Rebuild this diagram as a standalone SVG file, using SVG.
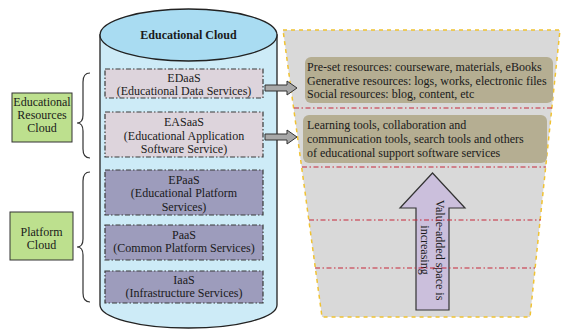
<svg xmlns="http://www.w3.org/2000/svg" width="562" height="330" viewBox="0 0 562 330">
<style>
text{font-family:"Liberation Serif","Times New Roman",serif;font-size:12px;fill:#1a1a1a}
.c{text-anchor:middle}
.b{font-weight:bold}
.svc{stroke:#3a3a3a;stroke-width:1.2;stroke-dasharray:5 2 1.5 2}
.light{fill:#ddd4dc}
.dark{fill:#9d9cbc}
.lbl{fill:#bde08e;stroke:#333;stroke-width:1}
.brace{fill:none;stroke:#333;stroke-width:1.2}
.red{stroke:#c8283a;stroke-width:1.2;stroke-dasharray:5 2.5 1.5 2.5}
.res{fill:#b5ae92}
.garrow{fill:#a8a8a8;stroke:#333;stroke-width:1}
</style>
<g id="value-space">
<polygon points="283,30 560,30 530,317 322,317" fill="#d9d9d9" stroke="#f0c232" stroke-width="1.5" stroke-dasharray="4 4"/>
</g>
<g id="cylinder">
<path d="M100,35 L100,305 A88.5,23 0 0 0 277,305 L277,35 Z" fill="#cdebf7" stroke="#222" stroke-width="1.3"/>
<ellipse cx="188.5" cy="35" rx="88.5" ry="26" fill="#a9dcf2" stroke="#222" stroke-width="1.3"/>
<text class="c b" x="188.5" y="39">Educational Cloud</text>
</g>
<g id="edaas">
<rect class="svc light" x="105" y="69" width="158" height="29"/>
<text class="c" x="184" y="82">EDaaS</text>
<text class="c" x="184" y="95">(Educational Data Services)</text>
</g>
<g id="easaas">
<rect class="svc light" x="105" y="112" width="158" height="45"/>
<text class="c" x="184" y="126">EASaaS</text>
<text class="c" x="184" y="140">(Educational Application</text>
<text class="c" x="184" y="153">Software Service)</text>
</g>
<g id="epaas">
<rect class="svc dark" x="105" y="170" width="158" height="45"/>
<text class="c" x="184" y="184">EPaaS</text>
<text class="c" x="184" y="197">(Educational Platform</text>
<text class="c" x="184" y="211">Services)</text>
</g>
<g id="paas">
<rect class="svc dark" x="105" y="225" width="158" height="35"/>
<text class="c" x="184" y="239">PaaS</text>
<text class="c" x="184" y="252">(Common Platform Services)</text>
</g>
<g id="iaas">
<rect class="svc dark" x="105" y="271" width="158" height="32"/>
<text class="c" x="184" y="284">IaaS</text>
<text class="c" x="184" y="297">(Infrastructure Services)</text>
</g>
<g id="erc">
<rect class="lbl" x="12" y="93" width="60" height="49"/>
<text class="c" x="42" y="106">Educational</text>
<text class="c" x="42" y="119">Resources</text>
<text class="c" x="42" y="132">Cloud</text>
</g>
<g id="pc">
<rect class="lbl" x="10" y="212" width="63" height="48"/>
<text class="c" x="41.5" y="236">Platform</text>
<text class="c" x="41.5" y="249">Cloud</text>
</g>
<g id="resources">
<rect class="res" x="305" y="57" width="248" height="46" rx="6"/>
<text x="307" y="71">Pre-set resources: courseware, materials, eBooks</text>
<text x="307" y="85">Generative resources: logs, works, electronic files</text>
<text x="307" y="98">Social resources: blog, content, etc</text>
</g>
<g id="tools">
<rect class="res" x="303" y="115" width="244" height="48" rx="6"/>
<text x="307" y="129">Learning tools, collaboration and</text>
<text x="307" y="143">communication tools, search tools and others</text>
<text x="307" y="157">of educational support software services</text>
</g>
<g id="value-arrow">
<polygon points="416,310 449,310 449,208 465,208 432.5,173 400,208 416,208" fill="#cbbfdc" stroke="#333" stroke-width="1.2"/>
<text class="c" transform="translate(436,250) rotate(90)">Value-added space is</text>
<text class="c" transform="translate(421,250) rotate(90)">increasing</text>
</g>
<g id="connectors">
<path class="brace" d="M90,73 Q83,73 83,82 L83,115 Q83,123 77,123 Q83,123 83,131 L83,149 Q83,158 90,158"/>
<path class="brace" d="M90,172 Q83,172 83,181 L83,239 Q83,247 77,247 Q83,247 83,255 L83,293 Q83,302 90,302"/>
<line class="red" x1="294" y1="108" x2="552" y2="108"/>
<line class="red" x1="302" y1="167" x2="546" y2="167"/>
<line class="red" x1="309" y1="220" x2="541" y2="220"/>
<line class="red" x1="315" y1="268" x2="535" y2="268"/>
<polygon class="garrow" points="265,85 287,85 287,81 297,88 287,95 287,91 265,91"/>
<polygon class="garrow" points="265,134 287,134 287,130 297,137 287,144 287,140 265,140"/>
</g>
</svg>
